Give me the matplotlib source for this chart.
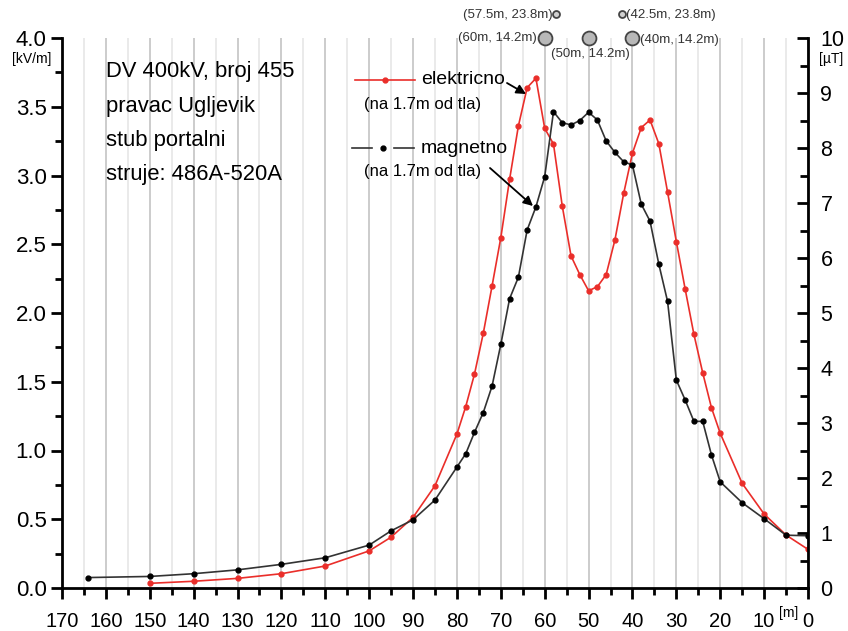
import numpy as np
import matplotlib
matplotlib.use("Agg")
import matplotlib.pyplot as plt
from matplotlib.lines import Line2D
from matplotlib.ticker import MultipleLocator, FormatStrFormatter

plt.rcParams["font.family"] = ["Liberation Sans", "DejaVu Sans"]

# electric field [kV/m] vs distance [m]
el_x = [150, 140, 130, 120, 110, 100, 95, 90, 85, 80, 78, 76, 74, 72, 70, 68, 66, 64, 62, 60,
        58, 56, 54, 52, 50, 48, 46, 44, 42, 40, 38, 36, 34, 32, 30, 28, 26, 24, 22, 20, 15, 10, 5, 0]
el_y = [0.034, 0.049, 0.07, 0.104, 0.16, 0.27, 0.37, 0.514, 0.744, 1.12, 1.319, 1.556, 1.852,
        2.196, 2.548, 2.972, 3.36, 3.639, 3.707, 3.343, 3.229, 2.778, 2.415, 2.279, 2.162, 2.191,
        2.279, 2.531, 2.87, 3.163, 3.348, 3.404, 3.232, 2.879, 2.519, 2.175, 1.845, 1.566, 1.311,
        1.125, 0.761, 0.538, 0.385, 0.281]

# magnetic field [uT] vs distance [m]
mag_x = [164, 150, 140, 130, 120, 110, 100, 95, 90, 85, 80, 78, 76, 74, 72, 70, 68, 66, 64, 62,
         60, 58, 56, 54, 52, 50, 48, 46, 44, 42, 40, 38, 36, 34, 32, 30, 28, 26, 24, 22, 20, 15,
         10, 5, 0]
mag_y = [0.19, 0.21, 0.26, 0.33, 0.43, 0.55, 0.78, 1.04, 1.24, 1.6, 2.2, 2.44, 2.83, 3.19, 3.67,
         4.43, 5.26, 5.65, 6.51, 6.93, 7.48, 8.66, 8.46, 8.42, 8.5, 8.65, 8.51, 8.13, 7.92, 7.75,
         7.69, 6.98, 6.67, 5.89, 5.21, 3.78, 3.42, 3.03, 3.03, 2.42, 1.93, 1.55, 1.26, 0.96, 0.95]

# conductor positions (distance, height)
cond_x = [57.5, 42.5, 60, 50, 40]
cond_h = [23.8, 23.8, 14.2, 14.2, 14.2]
cond_lbl = ["(57.5m, 23.8m)", "(42.5m, 23.8m)", "(60m, 14.2m)", "(50m, 14.2m)", "(40m, 14.2m)"]

info = ["DV 400kV, broj 455", "pravac Ugljevik", "stub portalni", "struje: 486A-520A"]

W, H = 848, 631
RED = "#ea2e2a"


def fp(x, y):
    return (x / W, 1 - y / H)


fig = plt.figure(figsize=(W / 100, H / 100), dpi=100)
ax = fig.add_axes([62 / W, 1 - 588 / H, (808 - 62) / W, (588 - 38) / H])
ax2 = ax.twinx()

ax.set_xlim(170, 0)
ax.set_ylim(0, 4.0)
ax2.set_ylim(0, 10)

ax.xaxis.set_major_locator(MultipleLocator(10))
ax.xaxis.set_minor_locator(MultipleLocator(5))
ax.yaxis.set_major_locator(MultipleLocator(0.5))
ax.yaxis.set_minor_locator(MultipleLocator(0.25))
ax.yaxis.set_major_formatter(FormatStrFormatter("%.1f"))
ax2.yaxis.set_major_locator(MultipleLocator(1))
ax2.yaxis.set_minor_locator(MultipleLocator(0.5))

ax.set_axisbelow(True)
ax.grid(which="major", axis="x", color="#c4c4c4", lw=1.2)
ax.grid(which="minor", axis="x", color="#e6e6e6", lw=1.2)

for a in (ax, ax2):
    a.spines["top"].set_visible(False)
    for s in a.spines.values():
        s.set_linewidth(2)
ax2.spines["left"].set_visible(False)
ax2.spines["bottom"].set_visible(False)
ax.spines["right"].set_visible(False)

ax.tick_params(axis="both", which="major", direction="out", length=8, width=2, pad=3)
ax.tick_params(axis="both", which="minor", direction="out", length=5, width=2)
ax.tick_params(axis="y", labelsize=16)
ax.tick_params(axis="x", labelsize=14.5, pad=9)
ax2.tick_params(axis="y", which="major", direction="in", length=8, width=2, labelsize=15.5, pad=9)
ax2.tick_params(axis="y", which="minor", direction="in", length=6, width=2)

ax.plot(el_x, el_y, color=RED, lw=1.2, marker="o", ms=3.5, mfc=RED, mec=RED, zorder=3)
ax2.plot(mag_x, mag_y, color="#333333", lw=1.2, marker="o", ms=3.5, mfc="black", mec="black", zorder=3)

# conductors above the plot
cond_y = [4.0 + (h - 14.2) * 0.018 for h in cond_h]
for cx, cy, h in zip(cond_x, cond_y, cond_h):
    big = h < 20
    ax.plot(cx, cy, "o", ms=10 if big else 5, mfc="#b8b8b8" if big else "#d0d0d0",
            mec="#444444", mew=1.3, clip_on=False, zorder=5)

lbl_pos = [(553, 15, "right"), (626, 15, "left"), (537, 38, "right"), (590, 54, "center"),
           (640, 40, "left")]
for t, (px, py, ha) in zip(cond_lbl, lbl_pos):
    fig.text(*fp(px, py), t, fontsize=9.5, ha=ha, va="center", color="#333333")

# unit labels
fig.text(*fp(12, 59), "[kV/m]", fontsize=10, ha="left", va="center")
fig.text(*fp(819, 59), "[\u00b5T]", fontsize=10, ha="left", va="center")
fig.text(*fp(789, 613), "[m]", fontsize=10, ha="center", va="center")

# info text
for i, t in enumerate(info):
    fig.text(*fp(106, 72 + i * 34.3), t, fontsize=15.8, ha="left", va="center")

# legend (drawn by hand)
fig.add_artist(Line2D([355 / W, 415 / W], [1 - 80 / H] * 2, color=RED, lw=1.2))
fig.add_artist(Line2D([385 / W], [1 - 80 / H], color=RED, marker="o", ms=3.5))
fig.text(*fp(421, 80), "elektricno", fontsize=14, ha="left", va="center")
fig.text(*fp(364, 104), "(na 1.7m od tla)", fontsize=12, ha="left", va="center")

fig.add_artist(Line2D([352 / W, 372 / W], [1 - 148 / H] * 2, color="#333333", lw=1.2))
fig.add_artist(Line2D([394 / W, 414 / W], [1 - 148 / H] * 2, color="#333333", lw=1.2))
fig.add_artist(Line2D([383 / W], [1 - 148 / H], color="black", marker="o", ms=3.5))
fig.text(*fp(421, 149), "magnetno", fontsize=14, ha="left", va="center")
fig.text(*fp(364, 171), "(na 1.7m od tla)", fontsize=12, ha="left", va="center")

arrow = dict(arrowstyle="-|>", color="black", lw=1.3, mutation_scale=14, shrinkA=0, shrinkB=0)
ax.annotate("", xy=fp(526, 94), xytext=fp(507, 83), xycoords="figure fraction",
            textcoords="figure fraction", arrowprops=arrow)
ax.annotate("", xy=fp(533, 206), xytext=fp(490, 168), xycoords="figure fraction",
            textcoords="figure fraction", arrowprops=arrow)

plt.savefig("out.png", dpi=100)
